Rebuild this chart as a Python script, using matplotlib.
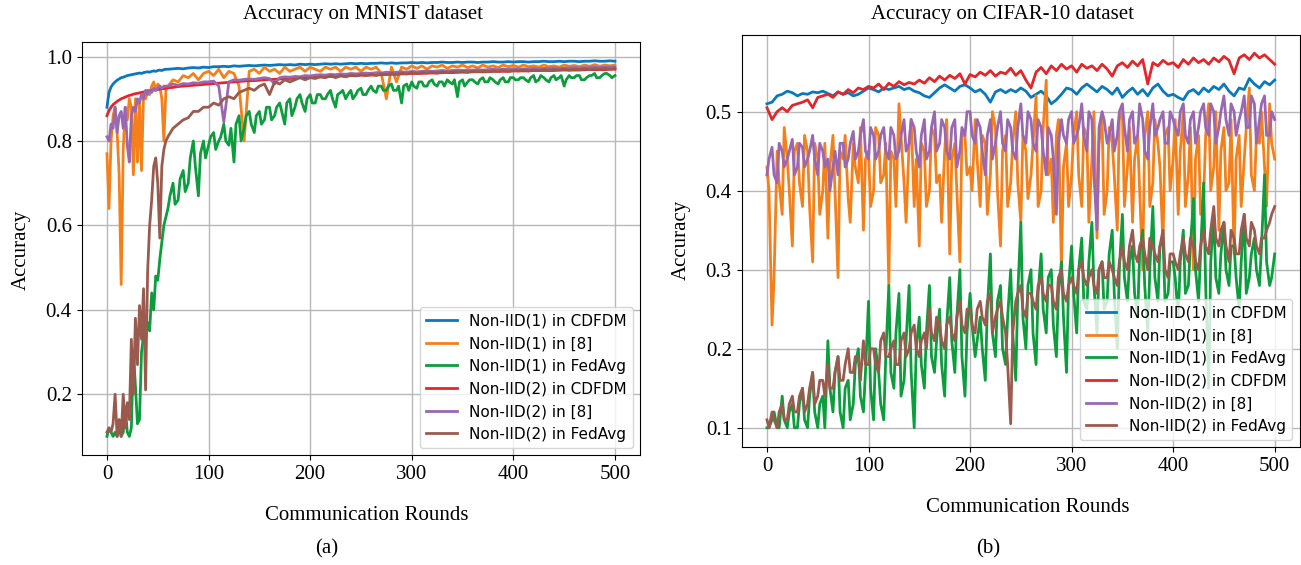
import numpy as np
import matplotlib
matplotlib.use("Agg")
import matplotlib.pyplot as plt

# ---------------- data ----------------
# MNIST: rounds 0..58 every 2, then 60..500 every 5
rounds_a = np.r_[np.arange(0, 60, 2), np.arange(60, 501, 5)]
rounds_a_mid = np.arange(62, 500, 5)      # extra readings for the noisy FedAvg curve
# CIFAR-10: every 5 rounds, plus in-between readings (2, 7, 12, ...)
rounds_b = np.arange(0, 501, 5)
rounds_b_mid = np.arange(2, 500, 5)

labels = ["Non-IID(1) in CDFDM", "Non-IID(1) in [8]", "Non-IID(1) in FedAvg",
          "Non-IID(2) in CDFDM", "Non-IID(2) in [8]", "Non-IID(2) in FedAvg"]
colors = ["#0a78bd", "#f5801a", "#0c9d3d", "#e4262a", "#9a68b3", "#9a5b4e"]

mnist_iid1_cdfdm = [
    0.880, 0.915, 0.928, 0.935, 0.940, 0.944, 0.947, 0.950, 0.951, 0.953,
    0.955, 0.956, 0.957, 0.958, 0.959, 0.960, 0.961, 0.960, 0.962, 0.963,
    0.964, 0.963, 0.965, 0.966, 0.965, 0.967, 0.968, 0.967, 0.969, 0.970,
    0.970, 0.971, 0.972, 0.971, 0.973, 0.974, 0.973, 0.975, 0.974, 0.976,
    0.976, 0.977, 0.976, 0.978, 0.977, 0.978, 0.979, 0.978, 0.979, 0.980,
    0.979, 0.980, 0.981, 0.980, 0.981, 0.980, 0.982, 0.981, 0.982, 0.981,
    0.982, 0.983, 0.982, 0.983, 0.982, 0.983, 0.984, 0.983, 0.984, 0.983,
    0.984, 0.984, 0.985, 0.984, 0.985, 0.984, 0.985, 0.985, 0.986, 0.985,
    0.986, 0.985, 0.986, 0.986, 0.987, 0.986, 0.986, 0.987, 0.986, 0.987,
    0.987, 0.986, 0.987, 0.987, 0.988, 0.987, 0.987, 0.988, 0.987, 0.988,
    0.988, 0.987, 0.988, 0.988, 0.989, 0.988, 0.988, 0.989, 0.988, 0.989,
    0.989, 0.988, 0.989, 0.989, 0.990, 0.989, 0.989, 0.990, 0.989]

mnist_iid1_ref8 = [
    0.77, 0.64, 0.80, 0.86, 0.88, 0.82, 0.72, 0.46, 0.78, 0.88,
    0.85, 0.90, 0.88, 0.72, 0.90, 0.75, 0.89, 0.73, 0.91, 0.90,
    0.92, 0.91, 0.93, 0.94, 0.92, 0.935, 0.93, 0.90, 0.80, 0.92,
    0.93, 0.945, 0.94, 0.955, 0.95, 0.96, 0.945, 0.96, 0.965, 0.955,
    0.97, 0.95, 0.965, 0.96, 0.93, 0.80, 0.965, 0.97, 0.96, 0.975,
    0.965, 0.97, 0.96, 0.975, 0.965, 0.97, 0.975, 0.965, 0.975, 0.97,
    0.965, 0.975, 0.97, 0.975, 0.965, 0.975, 0.97, 0.975, 0.965, 0.975,
    0.97, 0.975, 0.96, 0.90, 0.975, 0.94, 0.975, 0.97, 0.978, 0.972,
    0.978, 0.97, 0.978, 0.975, 0.98, 0.972, 0.978, 0.975, 0.98, 0.974,
    0.978, 0.973, 0.98, 0.975, 0.978, 0.974, 0.98, 0.976, 0.979, 0.975,
    0.98, 0.976, 0.978, 0.975, 0.98, 0.976, 0.978, 0.975, 0.98, 0.977,
    0.979, 0.976, 0.98, 0.977, 0.981, 0.977, 0.98, 0.978, 0.98]

mnist_iid1_fedavg = [
    0.10, 0.12, 0.11, 0.10, 0.11, 0.10, 0.12, 0.10, 0.11, 0.17,
    0.11, 0.10, 0.12, 0.30, 0.22, 0.13, 0.14, 0.30, 0.34, 0.33,
    0.37, 0.35, 0.44, 0.40, 0.48, 0.47, 0.52, 0.56, 0.60, 0.62,
    0.64, 0.70, 0.66, 0.73, 0.70, 0.80, 0.67, 0.80, 0.79, 0.82,
    0.80, 0.84, 0.79, 0.75, 0.86, 0.83, 0.87, 0.82, 0.87, 0.85,
    0.88, 0.86, 0.89, 0.84, 0.90, 0.88, 0.91, 0.87, 0.91, 0.89,
    0.91, 0.90, 0.92, 0.88, 0.915, 0.90, 0.92, 0.91, 0.925, 0.91,
    0.93, 0.915, 0.93, 0.92, 0.935, 0.92, 0.89, 0.935, 0.94, 0.925,
    0.94, 0.93, 0.945, 0.93, 0.94, 0.945, 0.935, 0.905, 0.945, 0.94,
    0.945, 0.935, 0.95, 0.94, 0.945, 0.935, 0.95, 0.94, 0.95, 0.945,
    0.95, 0.94, 0.955, 0.945, 0.95, 0.94, 0.955, 0.95, 0.93, 0.955,
    0.95, 0.955, 0.945, 0.955, 0.96, 0.95, 0.96, 0.955, 0.955]
mnist_iid1_fedavg_mid = [
    0.67, 0.65, 0.71, 0.68, 0.76, 0.74, 0.77, 0.76, 0.81, 0.78,
    0.81, 0.80, 0.83, 0.84, 0.80, 0.86, 0.84, 0.86, 0.84, 0.88,
    0.85, 0.88, 0.87, 0.89, 0.86, 0.90, 0.89, 0.90, 0.89, 0.91,
    0.90, 0.91, 0.90, 0.91, 0.92, 0.91, 0.90, 0.92, 0.91, 0.92,
    0.92, 0.93, 0.92, 0.93, 0.92, 0.93, 0.93, 0.92, 0.93, 0.94,
    0.93, 0.94, 0.935, 0.94, 0.93, 0.94, 0.945, 0.94, 0.93, 0.945,
    0.94, 0.945, 0.94, 0.95, 0.94, 0.945, 0.94, 0.95, 0.945, 0.95,
    0.945, 0.95, 0.94, 0.955, 0.945, 0.95, 0.945, 0.955, 0.945, 0.95,
    0.955, 0.945, 0.95, 0.955, 0.95, 0.955, 0.96, 0.95]

mnist_iid2_cdfdm = [
    0.860, 0.872, 0.880, 0.886, 0.890, 0.894, 0.897, 0.900, 0.902, 0.904,
    0.906, 0.908, 0.909, 0.911, 0.912, 0.913, 0.914, 0.915, 0.916, 0.917,
    0.918, 0.919, 0.920, 0.921, 0.921, 0.922, 0.923, 0.924, 0.924, 0.925,
    0.926, 0.927, 0.929, 0.930, 0.931, 0.932, 0.933, 0.934, 0.935, 0.936,
    0.937, 0.938, 0.939, 0.940, 0.941, 0.942, 0.943, 0.943, 0.944, 0.945,
    0.946, 0.946, 0.947, 0.948, 0.948, 0.949, 0.950, 0.950, 0.951, 0.951,
    0.952, 0.952, 0.953, 0.953, 0.954, 0.954, 0.955, 0.955, 0.956, 0.956,
    0.956, 0.957, 0.957, 0.958, 0.958, 0.958, 0.959, 0.959, 0.960, 0.960,
    0.960, 0.961, 0.961, 0.961, 0.962, 0.962, 0.962, 0.963, 0.963, 0.963,
    0.964, 0.964, 0.964, 0.964, 0.965, 0.965, 0.965, 0.965, 0.966, 0.966,
    0.966, 0.966, 0.967, 0.967, 0.967, 0.967, 0.967, 0.968, 0.968, 0.968,
    0.968, 0.968, 0.969, 0.969, 0.969, 0.969, 0.969, 0.970, 0.970]

mnist_iid2_ref8 = [
    0.81, 0.80, 0.84, 0.83, 0.88, 0.82, 0.86, 0.87, 0.83, 0.88,
    0.79, 0.75, 0.86, 0.88, 0.87, 0.90, 0.89, 0.91, 0.90, 0.92,
    0.91, 0.92, 0.915, 0.925, 0.92, 0.925, 0.93, 0.925, 0.93, 0.93,
    0.93, 0.935, 0.932, 0.936, 0.935, 0.938, 0.937, 0.94, 0.94, 0.942,
    0.93, 0.845, 0.94, 0.945, 0.944, 0.946, 0.947, 0.946, 0.948, 0.95,
    0.948, 0.935, 0.95, 0.952, 0.951, 0.953, 0.952, 0.955, 0.954, 0.956,
    0.957, 0.956, 0.958, 0.957, 0.959, 0.958, 0.96, 0.959, 0.96, 0.961,
    0.96, 0.962, 0.961, 0.963, 0.962, 0.963, 0.964, 0.963, 0.965, 0.964,
    0.965, 0.966, 0.965, 0.966, 0.967, 0.966, 0.967, 0.968, 0.967, 0.968,
    0.968, 0.969, 0.968, 0.969, 0.97, 0.969, 0.97, 0.97, 0.971, 0.97,
    0.971, 0.971, 0.972, 0.971, 0.972, 0.972, 0.973, 0.972, 0.973, 0.973,
    0.974, 0.973, 0.974, 0.974, 0.975, 0.974, 0.975, 0.975, 0.975]

mnist_iid2_fedavg = [
    0.11, 0.12, 0.11, 0.13, 0.20, 0.10, 0.14, 0.10, 0.20, 0.12,
    0.18, 0.14, 0.33, 0.20, 0.38, 0.27, 0.41, 0.33, 0.45, 0.21,
    0.49, 0.60, 0.66, 0.74, 0.76, 0.70, 0.57, 0.74, 0.78, 0.80,
    0.81, 0.83, 0.84, 0.85, 0.855, 0.87, 0.87, 0.88, 0.88, 0.89,
    0.885, 0.90, 0.905, 0.90, 0.915, 0.92, 0.925, 0.92, 0.93, 0.935,
    0.91, 0.94, 0.935, 0.945, 0.94, 0.945, 0.95, 0.945, 0.95, 0.948,
    0.952, 0.95, 0.955, 0.95, 0.955, 0.952, 0.956, 0.954, 0.957, 0.955,
    0.958, 0.955, 0.959, 0.957, 0.96, 0.958, 0.961, 0.959, 0.962, 0.96,
    0.962, 0.961, 0.963, 0.961, 0.964, 0.962, 0.964, 0.963, 0.965, 0.963,
    0.965, 0.964, 0.966, 0.964, 0.966, 0.965, 0.967, 0.965, 0.967, 0.966,
    0.968, 0.966, 0.968, 0.967, 0.969, 0.967, 0.969, 0.968, 0.97, 0.968,
    0.97, 0.969, 0.971, 0.969, 0.971, 0.97, 0.972, 0.97, 0.972]

cifar_iid1_cdfdm = [
    0.51, 0.512, 0.52, 0.522, 0.526, 0.524, 0.52, 0.523, 0.522, 0.525,
    0.524, 0.526, 0.523, 0.52, 0.525, 0.522, 0.524, 0.52, 0.522, 0.526,
    0.53, 0.528, 0.525, 0.53, 0.528, 0.53, 0.532, 0.528, 0.53, 0.526,
    0.524, 0.52, 0.518, 0.524, 0.53, 0.534, 0.53, 0.526, 0.532, 0.534,
    0.53, 0.525, 0.528, 0.522, 0.512, 0.525, 0.528, 0.524, 0.528, 0.525,
    0.53, 0.526, 0.518, 0.522, 0.526, 0.52, 0.51, 0.515, 0.522, 0.53,
    0.528, 0.522, 0.53, 0.535, 0.53, 0.525, 0.532, 0.528, 0.522, 0.53,
    0.518, 0.525, 0.53, 0.522, 0.528, 0.52, 0.53, 0.535, 0.526, 0.52,
    0.522, 0.518, 0.515, 0.525, 0.528, 0.522, 0.53, 0.525, 0.532, 0.528,
    0.535, 0.526, 0.52, 0.53, 0.528, 0.542, 0.535, 0.53, 0.538, 0.534,
    0.54]

cifar_iid1_ref8 = [
    0.43, 0.23, 0.45, 0.37, 0.44, 0.33, 0.46, 0.38, 0.45, 0.31,
    0.44, 0.40, 0.34, 0.47, 0.29, 0.44, 0.39, 0.46, 0.41, 0.35,
    0.45, 0.40, 0.47, 0.42, 0.28, 0.44, 0.51, 0.41, 0.46, 0.38,
    0.33, 0.45, 0.40, 0.47, 0.42, 0.45, 0.32, 0.46, 0.31, 0.47,
    0.43, 0.49, 0.38, 0.46, 0.42, 0.48, 0.33, 0.47, 0.41, 0.50,
    0.36, 0.45, 0.42, 0.52, 0.40, 0.54, 0.44, 0.47, 0.30, 0.46,
    0.42, 0.50, 0.38, 0.47, 0.44, 0.34, 0.49, 0.40, 0.46, 0.35,
    0.50, 0.43, 0.36, 0.47, 0.30, 0.50, 0.41, 0.46, 0.33, 0.48,
    0.44, 0.37, 0.50, 0.42, 0.30, 0.47, 0.39, 0.51, 0.43, 0.35,
    0.48, 0.41, 0.32, 0.47, 0.44, 0.53, 0.40, 0.46, 0.43, 0.51,
    0.44]
cifar_iid1_ref8_mid = [
    0.40, 0.29, 0.41, 0.48, 0.40, 0.45, 0.41, 0.47, 0.38, 0.46,
    0.37, 0.46, 0.43, 0.40, 0.45, 0.47, 0.36, 0.43, 0.48, 0.44,
    0.38, 0.48, 0.41, 0.46, 0.45, 0.38, 0.47, 0.36, 0.49, 0.44,
    0.46, 0.38, 0.48, 0.41, 0.36, 0.49, 0.44, 0.40, 0.47, 0.42,
    0.40, 0.44, 0.47, 0.37, 0.50, 0.40, 0.45, 0.38, 0.46, 0.41,
    0.47, 0.39, 0.46, 0.38, 0.48, 0.42, 0.36, 0.49, 0.43, 0.38,
    0.47, 0.42, 0.48, 0.36, 0.50, 0.46, 0.37, 0.48, 0.42, 0.49,
    0.38, 0.48, 0.44, 0.40, 0.47, 0.38, 0.49, 0.43, 0.47, 0.40,
    0.49, 0.45, 0.38, 0.48, 0.44, 0.37, 0.47, 0.40, 0.50, 0.45,
    0.40, 0.49, 0.44, 0.38, 0.48, 0.42, 0.47, 0.50, 0.38, 0.46]

cifar_iid1_fedavg = [
    0.10, 0.11, 0.10, 0.14, 0.10, 0.13, 0.10, 0.15, 0.10, 0.17,
    0.10, 0.14, 0.21, 0.12, 0.19, 0.10, 0.16, 0.13, 0.20, 0.12,
    0.26, 0.11, 0.17, 0.11, 0.28, 0.15, 0.27, 0.16, 0.28, 0.10,
    0.24, 0.15, 0.28, 0.17, 0.25, 0.14, 0.29, 0.17, 0.30, 0.14,
    0.27, 0.19, 0.24, 0.16, 0.32, 0.19, 0.28, 0.18, 0.30, 0.16,
    0.36, 0.20, 0.30, 0.18, 0.32, 0.22, 0.30, 0.19, 0.31, 0.17,
    0.33, 0.22, 0.34, 0.25, 0.36, 0.22, 0.31, 0.26, 0.35, 0.20,
    0.37, 0.26, 0.33, 0.24, 0.35, 0.22, 0.38, 0.26, 0.34, 0.27,
    0.31, 0.24, 0.35, 0.28, 0.39, 0.26, 0.41, 0.15, 0.37, 0.27,
    0.36, 0.28, 0.33, 0.25, 0.37, 0.29, 0.34, 0.28, 0.42, 0.28,
    0.32]
cifar_iid1_fedavg_mid = [
    0.10, 0.12, 0.10, 0.11, 0.12, 0.10, 0.13, 0.11, 0.14, 0.12,
    0.13, 0.10, 0.15, 0.17, 0.12, 0.15, 0.11, 0.18, 0.14, 0.17,
    0.15, 0.20, 0.13, 0.19, 0.17, 0.22, 0.14, 0.21, 0.17, 0.20,
    0.18, 0.22, 0.19, 0.21, 0.18, 0.23, 0.21, 0.24, 0.19, 0.22,
    0.23, 0.21, 0.20, 0.25, 0.22, 0.26, 0.20, 0.24, 0.22, 0.27,
    0.24, 0.28, 0.22, 0.27, 0.25, 0.29, 0.23, 0.27, 0.24, 0.28,
    0.27, 0.30, 0.26, 0.31, 0.28, 0.30, 0.25, 0.32, 0.27, 0.30,
    0.29, 0.31, 0.27, 0.32, 0.28, 0.30, 0.29, 0.33, 0.26, 0.31,
    0.29, 0.31, 0.27, 0.33, 0.30, 0.32, 0.28, 0.31, 0.29, 0.32,
    0.30, 0.33, 0.29, 0.31, 0.27, 0.32, 0.30, 0.33, 0.31, 0.29]

cifar_iid2_cdfdm = [
    0.505, 0.49, 0.50, 0.505, 0.50, 0.508, 0.51, 0.512, 0.515, 0.505,
    0.518, 0.52, 0.522, 0.518, 0.525, 0.522, 0.528, 0.524, 0.53, 0.528,
    0.532, 0.53, 0.535, 0.528, 0.536, 0.532, 0.538, 0.534, 0.537, 0.535,
    0.54, 0.536, 0.543, 0.538, 0.545, 0.54, 0.546, 0.542, 0.548, 0.535,
    0.547, 0.544, 0.55, 0.546, 0.552, 0.545, 0.55, 0.548, 0.555, 0.546,
    0.552, 0.54, 0.53, 0.55, 0.556, 0.548, 0.558, 0.552, 0.56, 0.554,
    0.558, 0.55, 0.56, 0.555, 0.558, 0.552, 0.56, 0.554, 0.545, 0.558,
    0.562, 0.556, 0.564, 0.558, 0.566, 0.535, 0.562, 0.558, 0.565, 0.56,
    0.562, 0.556, 0.566, 0.56, 0.568, 0.562, 0.566, 0.56, 0.568, 0.563,
    0.57, 0.565, 0.548, 0.568, 0.572, 0.566, 0.574, 0.568, 0.572, 0.566,
    0.56]

cifar_iid2_ref8 = [
    0.42, 0.455, 0.41, 0.45, 0.44, 0.465, 0.43, 0.455, 0.44, 0.47,
    0.42, 0.45, 0.44, 0.43, 0.42, 0.46, 0.44, 0.475, 0.45, 0.49,
    0.44, 0.47, 0.45, 0.48, 0.44, 0.47, 0.45, 0.49, 0.46, 0.48,
    0.43, 0.49, 0.45, 0.50, 0.46, 0.48, 0.44, 0.49, 0.45, 0.47,
    0.50, 0.46, 0.48, 0.42, 0.49, 0.46, 0.50, 0.45, 0.48, 0.44,
    0.51, 0.46, 0.49, 0.45, 0.48, 0.42, 0.47, 0.37, 0.49, 0.46,
    0.50, 0.47, 0.51, 0.45, 0.49, 0.35, 0.50, 0.46, 0.49, 0.47,
    0.51, 0.45, 0.50, 0.47, 0.49, 0.44, 0.51, 0.48, 0.50, 0.46,
    0.49, 0.47, 0.51, 0.46, 0.50, 0.48, 0.51, 0.47, 0.50, 0.48,
    0.52, 0.47, 0.50, 0.49, 0.52, 0.48, 0.51, 0.49, 0.52, 0.47,
    0.49]
cifar_iid2_ref8_mid = [
    0.44, 0.42, 0.46, 0.43, 0.45, 0.42, 0.46, 0.43, 0.45, 0.44,
    0.46, 0.43, 0.40, 0.45, 0.46, 0.43, 0.46, 0.44, 0.47, 0.45,
    0.48, 0.44, 0.47, 0.45, 0.48, 0.44, 0.47, 0.45, 0.49, 0.45,
    0.47, 0.44, 0.48, 0.45, 0.49, 0.45, 0.48, 0.43, 0.48, 0.50,
    0.47, 0.49, 0.45, 0.47, 0.44, 0.48, 0.46, 0.49, 0.45, 0.48,
    0.47, 0.50, 0.46, 0.49, 0.45, 0.48, 0.44, 0.46, 0.47, 0.49,
    0.46, 0.48, 0.47, 0.50, 0.42, 0.48, 0.49, 0.47, 0.45, 0.50,
    0.48, 0.49, 0.46, 0.51, 0.45, 0.48, 0.47, 0.49, 0.46, 0.50,
    0.48, 0.50, 0.47, 0.49, 0.46, 0.50, 0.48, 0.51, 0.46, 0.50,
    0.49, 0.51, 0.47, 0.50, 0.48, 0.52, 0.46, 0.51, 0.47, 0.50]

cifar_iid2_fedavg = [
    0.11, 0.12, 0.10, 0.13, 0.11, 0.14, 0.12, 0.15, 0.13, 0.17,
    0.14, 0.16, 0.18, 0.15, 0.19, 0.16, 0.20, 0.17, 0.19, 0.21,
    0.18, 0.20, 0.17, 0.22, 0.19, 0.21, 0.18, 0.22, 0.20, 0.23,
    0.19, 0.22, 0.25, 0.21, 0.23, 0.20, 0.24, 0.21, 0.26, 0.22,
    0.25, 0.22, 0.26, 0.23, 0.27, 0.24, 0.26, 0.22, 0.105, 0.26,
    0.28, 0.24, 0.27, 0.25, 0.29, 0.26, 0.28, 0.25, 0.30, 0.26,
    0.29, 0.27, 0.31, 0.28, 0.30, 0.27, 0.31, 0.29, 0.30, 0.28,
    0.33, 0.30, 0.35, 0.31, 0.34, 0.30, 0.33, 0.31, 0.35, 0.29,
    0.32, 0.30, 0.34, 0.31, 0.33, 0.30, 0.35, 0.32, 0.38, 0.33,
    0.36, 0.31, 0.34, 0.32, 0.37, 0.33, 0.35, 0.32, 0.34, 0.36,
    0.38]
cifar_iid2_fedavg_mid = [
    0.10, 0.11, 0.12, 0.11, 0.13, 0.12, 0.14, 0.12, 0.15, 0.13,
    0.16, 0.14, 0.15, 0.17, 0.16, 0.18, 0.17, 0.19, 0.16, 0.18,
    0.20, 0.18, 0.21, 0.19, 0.20, 0.18, 0.21, 0.19, 0.22, 0.20,
    0.21, 0.20, 0.22, 0.24, 0.21, 0.23, 0.22, 0.24, 0.23, 0.25,
    0.23, 0.25, 0.24, 0.26, 0.22, 0.25, 0.24, 0.18, 0.22, 0.27,
    0.25, 0.27, 0.26, 0.28, 0.27, 0.28, 0.26, 0.29, 0.27, 0.28,
    0.28, 0.30, 0.29, 0.29, 0.28, 0.30, 0.29, 0.31, 0.29, 0.31,
    0.31, 0.33, 0.32, 0.33, 0.32, 0.34, 0.32, 0.33, 0.30, 0.32,
    0.31, 0.32, 0.32, 0.34, 0.31, 0.33, 0.33, 0.35, 0.34, 0.35,
    0.33, 0.35, 0.32, 0.35, 0.34, 0.36, 0.33, 0.34, 0.35, 0.37]


def merged(x_main, y_main, x_mid, y_mid):
    x = np.r_[x_main, x_mid]
    y = np.r_[y_main, y_mid]
    order = np.argsort(x, kind="stable")
    return x[order], y[order]


mnist_series = [
    (rounds_a, mnist_iid1_cdfdm),
    (rounds_a, mnist_iid1_ref8),
    merged(rounds_a, mnist_iid1_fedavg, rounds_a_mid, mnist_iid1_fedavg_mid),
    (rounds_a, mnist_iid2_cdfdm),
    (rounds_a, mnist_iid2_ref8),
    (rounds_a, mnist_iid2_fedavg),
]
cifar_series = [
    (rounds_b, cifar_iid1_cdfdm),
    merged(rounds_b, cifar_iid1_ref8, rounds_b_mid, cifar_iid1_ref8_mid),
    merged(rounds_b, cifar_iid1_fedavg, rounds_b_mid, cifar_iid1_fedavg_mid),
    (rounds_b, cifar_iid2_cdfdm),
    merged(rounds_b, cifar_iid2_ref8, rounds_b_mid, cifar_iid2_ref8_mid),
    merged(rounds_b, cifar_iid2_fedavg, rounds_b_mid, cifar_iid2_fedavg_mid),
]

# ---------------- plot ----------------
serif = "Liberation Serif"
fs = 15
fig = plt.figure(figsize=(13.01, 5.65), dpi=100)

ax1 = fig.add_axes([0.0627, 0.194, 0.4295, 0.732])
ax2 = fig.add_axes([0.570, 0.208, 0.4293, 0.730])

for ax, series in [(ax1, mnist_series), (ax2, cifar_series)]:
    for (xs, ys), lab, c in zip(series, labels, colors):
        ax.plot(xs, ys, lw=2.0, color=c, label=lab)
    ax.grid(True, color="#b8b8b8", lw=1.0)
    ax.set_xlim(-25, 525)
    ax.set_xticks([0, 100, 200, 300, 400, 500])
    ax.legend(loc="lower right", fontsize=11)

ax1.set_ylim(0.055, 1.035)
ax1.set_yticks([0.2, 0.4, 0.6, 0.8, 1.0])
ax2.set_ylim(0.075, 0.597)
ax2.set_yticks([0.1, 0.2, 0.3, 0.4, 0.5])
for ax in (ax1, ax2):
    for t in ax.get_xticklabels() + ax.get_yticklabels():
        t.set_fontfamily(serif)
        t.set_fontsize(fs)

fig.text(363 / 1301, 1 - 15 / 565, "Accuracy on MNIST dataset", family=serif,
         fontsize=fs, ha="center", va="center")
fig.text(1003 / 1301, 1 - 15 / 565, "Accuracy on CIFAR-10 dataset", family=serif,
         fontsize=fs, ha="center", va="center")
fig.text(367 / 1301, 1 - 515 / 565, "Communication Rounds", family=serif,
         fontsize=fs, ha="center", va="center")
fig.text(1028 / 1301, 1 - 507 / 565, "Communication Rounds", family=serif,
         fontsize=fs, ha="center", va="center")
fig.text(21 / 1301, 1 - 250 / 565, "Accuracy", family=serif, fontsize=fs,
         ha="center", va="center", rotation=90)
fig.text(681 / 1301, 1 - 240 / 565, "Accuracy", family=serif, fontsize=fs,
         ha="center", va="center", rotation=90)
fig.text(327 / 1301, 1 - 549 / 565, "(a)", family=serif, fontsize=fs,
         ha="center", va="center")
fig.text(988 / 1301, 1 - 549 / 565, "(b)", family=serif, fontsize=fs,
         ha="center", va="center")

fig.savefig("out.png", dpi=100)
